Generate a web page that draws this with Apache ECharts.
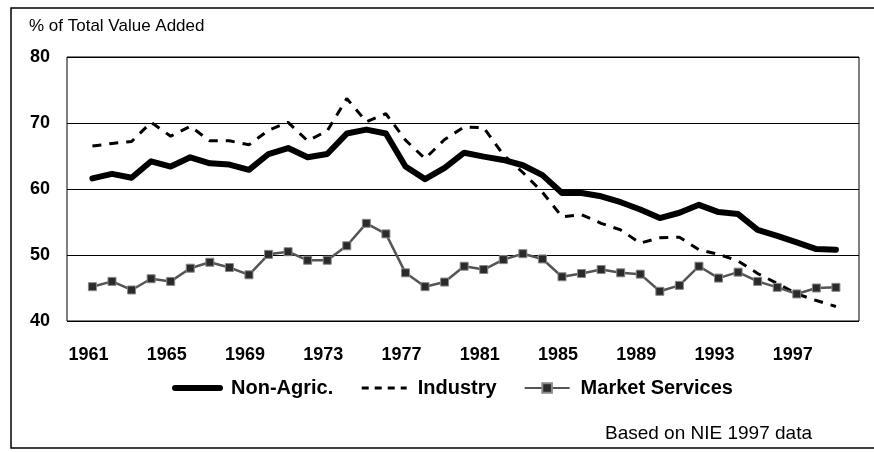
<!DOCTYPE html>
<html>
<head>
<meta charset="utf-8">
<title>% of Total Value Added</title>
<script src="https://cdn.jsdelivr.net/npm/echarts@6/dist/echarts.min.js"></script>
<style>
  html, body { margin: 0; padding: 0; background: #fff; }
  #chart { width: 874px; height: 452px; }
</style>
</head>
<body>
<div id="chart"></div>
<script>
// years 1961 - 1999
const years = [1961, 1962, 1963, 1964, 1965, 1966, 1967, 1968, 1969, 1970,
  1971, 1972, 1973, 1974, 1975, 1976, 1977, 1978, 1979, 1980,
  1981, 1982, 1983, 1984, 1985, 1986, 1987, 1988, 1989, 1990,
  1991, 1992, 1993, 1994, 1995, 1996, 1997, 1998, 1999]
const tickYears = [1961, 1965, 1969, 1973, 1977, 1981, 1985, 1989, 1993, 1997]

const nonAgric = [61.6, 62.3, 61.7, 64.2, 63.4, 64.8, 63.9, 63.7, 62.9, 65.3,
  66.2, 64.8, 65.3, 68.4, 69.0, 68.4, 63.4, 61.5, 63.2, 65.5,
  64.9, 64.4, 63.6, 62.1, 59.4, 59.4, 58.9, 58.0, 56.9, 55.6,
  56.4, 57.6, 56.5, 56.2, 53.8, 52.9, 51.9, 50.9, 50.8]
const industry = [66.5, 66.9, 67.2, 70.1, 68.0, 69.5, 67.3, 67.3, 66.7, 68.9,
  70.1, 67.3, 68.8, 73.7, 70.2, 71.4, 67.4, 64.6, 67.5, 69.4,
  69.3, 65.2, 62.5, 59.5, 55.8, 56.1, 54.8, 53.8, 51.8, 52.6,
  52.7, 50.8, 50.1, 49.1, 47.2, 45.7, 44.1, 43.1, 42.2]
const marketServices = [45.2, 46.0, 44.7, 46.4, 46.0, 48.0, 48.9, 48.1, 47.0, 50.1,
  50.5, 49.2, 49.2, 51.4, 54.8, 53.2, 47.3, 45.2, 45.9, 48.3,
  47.8, 49.3, 50.2, 49.4, 46.7, 47.2, 47.8, 47.3, 47.1, 44.5,
  45.4, 48.3, 46.5, 47.4, 46.0, 45.1, 44.1, 45.0, 45.1]

const FONT = '"Liberation Sans", Arial, Helvetica, sans-serif'
const pairs = arr => years.map((y, i) => [y, arr[i]])

const myChart = echarts.init(document.getElementById('chart'))
const option = {
  backgroundColor: '#fff',
  animation: false,
  textStyle: { fontFamily: FONT },
  title: [
    {
      text: '% of Total Value Added',
      left: 29,
      top: 18,
      padding: 0,
      textStyle: { fontFamily: FONT, fontSize: 17, fontWeight: 'normal', color: '#000' }
    },
    {
      text: 'Based on NIE 1997 data',
      right: 62,
      top: 424,
      padding: 0,
      textStyle: { fontFamily: FONT, fontSize: 19, fontWeight: 'normal', color: '#000' }
    }
  ],
  // outer frame round the whole figure
  graphic: [
    {
      type: 'rect',
      shape: { x: 11, y: 8, width: 880, height: 440 },
      style: { fill: 'none', stroke: '#000', lineWidth: 1.5 },
      silent: true
    }
  ],
  legend: {
    left: 167,
    top: 373,
    itemWidth: 45,
    itemHeight: 12,
    itemGap: 27,
    textStyle: { fontFamily: FONT, fontSize: 20, fontWeight: 'bold', color: '#000', padding: [0, 0, 0, 6] },
    data: [
      // line only, hide the default circle
      { name: 'Non-Agric.', itemStyle: { opacity: 0 }, lineStyle: { width: 6, cap: 'round' } },
      { name: 'Industry', itemStyle: { opacity: 0 }, lineStyle: { width: 3, type: [7, 6] } },
      { name: 'Market Services' }
    ]
  },
  grid: {
    left: 67,
    right: 15,
    top: 57,
    bottom: 452 - 321,
    show: true,
    borderColor: '#000',
    borderWidth: 1,
    containLabel: false
  },
  xAxis: {
    type: 'value',
    min: 1959.7,
    max: 2000.18,
    axisLine: { show: false },
    axisTick: { show: false },
    splitLine: { show: false },
    axisLabel: {
      customValues: tickYears,
      margin: 25,
      padding: [0, 8, 0, 0],
      fontFamily: FONT,
      fontSize: 18,
      fontWeight: 'bold',
      color: '#000',
      formatter: v => String(v)
    }
  },
  yAxis: {
    type: 'value',
    min: 40,
    max: 80,
    interval: 10,
    axisLine: { show: false },
    axisTick: { show: false },
    splitLine: { show: true, lineStyle: { color: '#000', width: 1 } },
    axisLabel: {
      margin: 17,
      fontFamily: FONT,
      fontSize: 18,
      fontWeight: 'bold',
      color: '#000'
    }
  },
  series: [
    {
      name: 'Non-Agric.',
      type: 'line',
      data: pairs(nonAgric),
      symbol: 'none',
      lineStyle: { color: '#000', width: 6, join: 'round', cap: 'round' },
      itemStyle: { color: '#000' },
      z: 3
    },
    {
      name: 'Industry',
      type: 'line',
      data: pairs(industry),
      symbol: 'none',
      lineStyle: { color: '#000', width: 3, type: [9, 8] },
      itemStyle: { color: '#000' },
      z: 2
    },
    {
      name: 'Market Services',
      type: 'line',
      data: pairs(marketServices),
      symbol: 'rect',
      symbolSize: 8,
      lineStyle: { color: '#555', width: 2.5 },
      itemStyle: { color: '#2a2a2a', borderColor: '#888', borderWidth: 1 },
      z: 4
    }
  ]
}
option && myChart.setOption(option)
</script>
</body>
</html>
